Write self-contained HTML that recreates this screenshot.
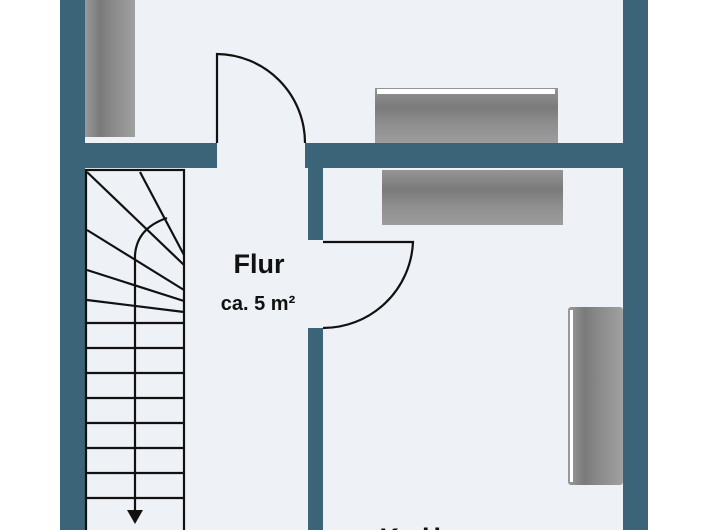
<!DOCTYPE html>
<html><head><meta charset="utf-8"><style>
html,body{margin:0;padding:0;width:720px;height:530px;overflow:hidden;background:#fff}
</style></head><body>
<svg width="720" height="530" viewBox="0 0 720 530" xmlns="http://www.w3.org/2000/svg">
<defs>
<linearGradient id="gv" x1="0" y1="0" x2="1" y2="0">
<stop offset="0" stop-color="#9a9a9a"/><stop offset="0.3" stop-color="#7a7a7a"/><stop offset="0.6" stop-color="#8c8c8c"/><stop offset="1" stop-color="#a0a0a0"/>
</linearGradient>
<linearGradient id="gh" x1="0" y1="0" x2="0" y2="1">
<stop offset="0" stop-color="#959595"/><stop offset="0.35" stop-color="#7a7a7a"/><stop offset="0.65" stop-color="#8e8e8e"/><stop offset="1" stop-color="#9c9c9c"/>
</linearGradient>
</defs>
<rect x="0" y="0" width="648" height="530" fill="#eef1f5"/>
<rect x="0" y="0" width="60" height="530" fill="#fff"/>
<rect x="85" y="0" width="50" height="137" fill="url(#gv)"/>
<rect x="375" y="88" width="183" height="55" fill="url(#gh)"/>
<rect x="377" y="89" width="178" height="5" fill="#fff"/>
<rect x="382" y="170" width="181" height="55" fill="url(#gh)"/>
<rect x="568" y="307" width="55" height="178" rx="3" fill="url(#gv)"/>
<rect x="570" y="310" width="3" height="172" fill="#fff"/>
<g fill="#3b6478">
<rect x="60" y="0" width="25" height="530"/>
<rect x="623" y="0" width="25" height="530"/>
<rect x="60" y="143" width="157" height="25"/>
<rect x="305" y="143" width="320" height="25"/>
<rect x="308" y="143" width="15" height="97"/>
<rect x="308" y="328" width="15" height="202"/>
</g>
<g fill="none" stroke="#111" stroke-width="2.2">
<path d="M217,143 L217,54 A89,89 0 0 1 305,143"/>
<path d="M323,242 L413,242 A90,90 0 0 1 323,328"/>
</g>
<g fill="none" stroke="#111" stroke-width="2.2">
<rect x="86" y="170" width="98" height="370"/>
<line x1="86" y1="323" x2="184" y2="323"/>
<line x1="86" y1="348" x2="184" y2="348"/>
<line x1="86" y1="373" x2="184" y2="373"/>
<line x1="86" y1="398" x2="184" y2="398"/>
<line x1="86" y1="423" x2="184" y2="423"/>
<line x1="86" y1="448" x2="184" y2="448"/>
<line x1="86" y1="473" x2="184" y2="473"/>
<line x1="86" y1="498" x2="184" y2="498"/>
<line x1="87" y1="172" x2="184" y2="265"/>
<line x1="140" y1="172" x2="184" y2="255"/>
<line x1="87" y1="230" x2="184" y2="290"/>
<line x1="87" y1="270" x2="184" y2="301"/>
<line x1="87" y1="300" x2="184" y2="312"/>
<path d="M135,515 L135,255 Q137,228 167,218"/>
</g>
<polygon points="127,510 143,510 135,524" fill="#111"/>
<g font-family="Liberation Sans, sans-serif" font-weight="bold" fill="#111" text-anchor="middle">
<text x="259" y="273" font-size="27">Flur</text>
<text x="258" y="310" font-size="20">ca. 5 m²</text>
<text x="470" y="547" font-size="27" letter-spacing="4">Kellerraum</text>
</g>
</svg>
</body></html>
